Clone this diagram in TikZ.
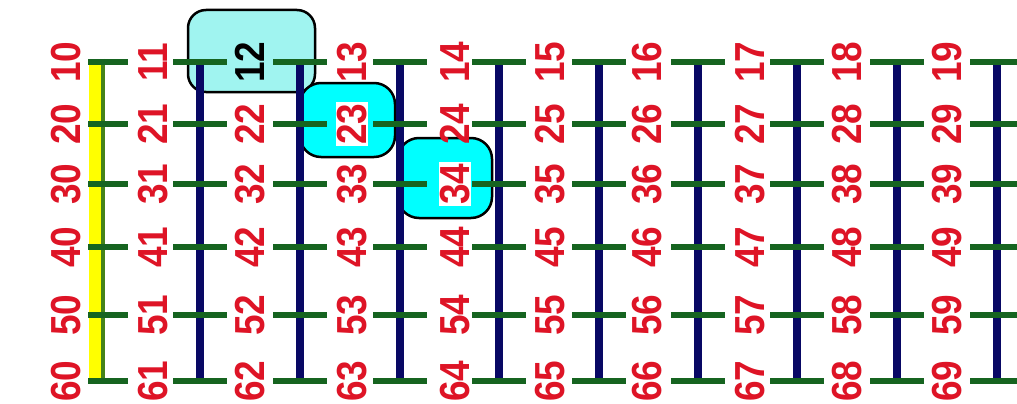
\documentclass[tikz,border=0pt]{standalone}
\usepackage{fontspec}
\setmainfont{Liberation Sans}
\definecolor{lblred}{RGB}{222,20,38}
\definecolor{navyline}{RGB}{8,8,100}
\definecolor{grnline}{RGB}{22,100,32}
\definecolor{cyanlight}{RGB}{160,244,240}
\definecolor{cyanbright}{RGB}{0,255,255}
\definecolor{yelline}{RGB}{255,255,0}
\begin{document}
\begin{tikzpicture}[x=1pt,y=-1pt,
  lbl/.style={text=lblred, font=\fontsize{42}{42}\selectfont\bfseries, rotate=90, inner sep=1pt},
  l12/.style={text=black},
  l23/.style={fill=white},
  l34/.style={fill=white},
  boxbase/.style={draw=black, line width=2.5pt, inner sep=0pt},
  boxlight/.style={boxbase, fill=cyanlight, rounded corners=18pt},
  boxbright/.style={boxbase, fill=cyanbright, rounded corners=21pt},
  navy/.style={draw=navyline, line width=8pt},
  rung/.style={draw=grnline, line width=6pt},
  yellowbar/.style={draw=yelline, line width=12pt},
  greenedge/.style={draw=grnline!80!yelline, line width=4pt}
]
\useasboundingbox (0,0) rectangle (1017,404);
\fill[white] (0,0) rectangle (1017,404);

% highlight boxes
\node[boxlight, minimum width=127pt, minimum height=82pt] (box12) at (251.5,51) {};
\node[boxbright, minimum width=95pt, minimum height=74pt] (box23) at (347.5,120) {};
\node[boxbright, minimum width=94pt, minimum height=80pt] (box34) at (445,178) {};

% coordinates of the vertical lines
\foreach \lx [count=\ci from 0] in {95,200,300,400,499,599,698,797,897,997} {
  \coordinate (top\ci) at (\lx,62);
  \coordinate (bot\ci) at (\lx,381);
}

% first vertical: yellow bar with green edge
\coordinate (ytop) at (94.5,59);
\coordinate (ybot) at (94.5,379);
\coordinate (gtop) at (102.5,59);
\coordinate (gbot) at (102.5,379);
\draw[yellowbar] (ytop) -- (ybot);
\draw[greenedge] (gtop) -- (gbot);

% navy verticals
\foreach \ci in {1,...,9} {
  \draw[navy] (top\ci) -- (bot\ci);
}

% green rungs
\foreach \ry [count=\ri] in {62,124,184,247,315,381} {
  \coordinate (ra\ri) at (88,\ry);
  \coordinate (rb\ri) at (128,\ry);
  \draw[rung] (ra\ri) -- (rb\ri);
  \foreach \lx [count=\ci] in {200,300,400,499,599,698,797,897,997} {
    \coordinate (sa\ri\ci) at (\lx-27,\ry);
    \coordinate (sb\ri\ci) at (\lx+27,\ry);
    \draw[rung] (sa\ri\ci) -- (sb\ri\ci);
  }
}

% labels
\foreach \ry [count=\ri] in {62,124,184,247,315,381} {
  \foreach \lx [count=\ci from 0] in {66,153,250,352,455,550,647,750,847,947} {
    \node[lbl, l\ri\ci/.try] (n\ri\ci) at (\lx,\ry) {\scalebox{0.88}[1]{\ri\ci}};
  }
}
\end{tikzpicture}
\end{document}
